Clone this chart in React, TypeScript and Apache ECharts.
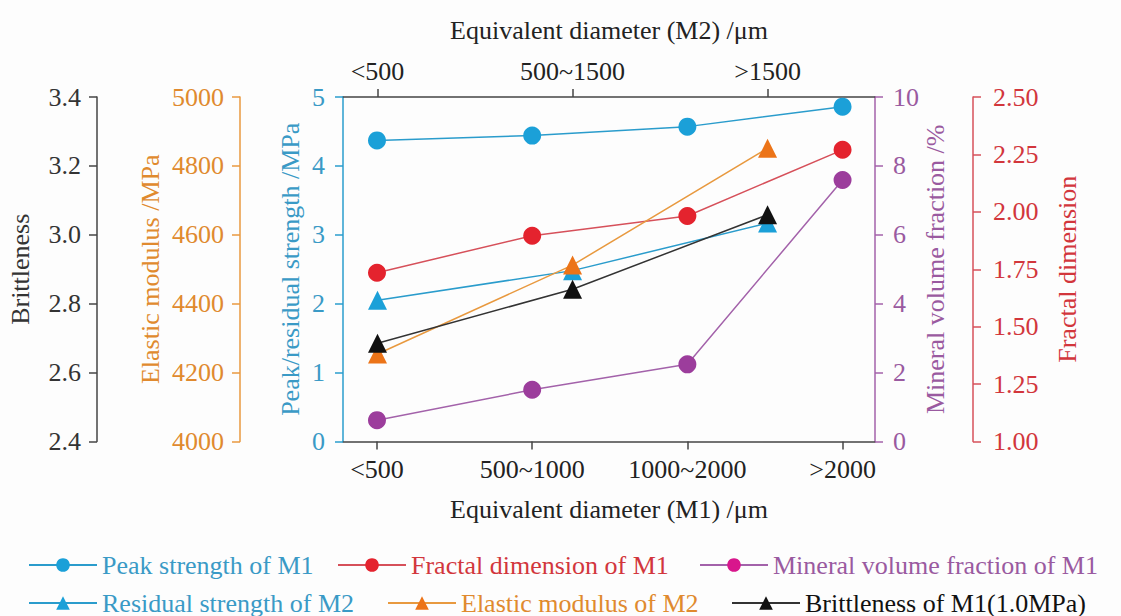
import React, { useEffect, useRef } from 'react';
import * as echarts from 'echarts';

const m1Categories = ['<500', '500~1000', '1000~2000', '>2000'];
const m2Categories = ['<500', '500~1500', '>1500'];
const peakStrengthM1 = [4.37, 4.44, 4.57, 4.86];
const fractalDimensionM1 = [1.735, 1.896, 1.982, 2.27];
const mineralFractionM1 = [0.62, 1.5, 2.24, 7.59];
const residualStrengthM2 = [2.05, 2.48, 3.17];
const elasticModulusM2 = [4254, 4512, 4851];
const brittlenessM1 = [2.685, 2.842, 3.058];

const FONT = 'Liberation Serif, serif';
const FS = 26;

const C = {
  cyan: '#1ba0d8',
  cyanLine: '#2a9ccc',
  cyanText: '#3a9ac6',
  red: '#e4232e',
  redLine: '#d6505a',
  redText: '#d2363c',
  purple: '#9c3d9c',
  purpleLine: '#a362aa',
  purpleText: '#9a5aa0',
  magenta: '#d8168c',
  orange: '#ec7418',
  orangeLine: '#e8993f',
  orangeText: '#e08a2e',
  black: '#111111',
  gray: '#444444',
};

function yAxisCfg(opts: any) {
  const { color, textColor, position, offset, min, max, interval, name, nameGap, digits, labelMargin } = opts;
  return {
    type: 'value',
    position,
    offset,
    min,
    max,
    interval,
    name,
    nameLocation: 'middle',
    nameGap,
    nameRotate: 90,
    nameTextStyle: { color: textColor, fontFamily: FONT, fontSize: FS },
    axisLine: { show: true, onZero: false, lineStyle: { color, width: 1.5 } },
    axisTick: { show: true, inside: false, length: 8, lineStyle: { color, width: 1.5 } },
    axisLabel: {
      color: textColor,
      fontFamily: FONT,
      fontSize: FS,
      margin: labelMargin,
      formatter: (v: number) => v.toFixed(digits),
    },
    splitLine: { show: false },
  };
}

function legendItem(name: string, color: string, left: number, top: number, iconColor?: string) {
  const item: any = { name, textStyle: { color } };
  if (iconColor) item.itemStyle = { color: iconColor };
  return {
    left,
    top,
    itemWidth: 68,
    itemHeight: 17,
    padding: 0,
    textStyle: { fontFamily: FONT, fontSize: FS },
    data: [item],
  };
}

export default function App() {
  const ref = useRef<HTMLDivElement>(null);

  useEffect(() => {
    if (!ref.current) return;
    const chart = echarts.init(ref.current, undefined, { renderer: 'svg' });

    const m1Data = (arr: number[]) => arr.map((v, i) => [i, v]);
    const m2Data = (arr: number[]) => arr.map((v, i) => [i, v]);

    const xBase = {
      type: 'value',
      splitLine: { show: false },
      axisLine: { show: true, onZero: false, lineStyle: { color: C.gray, width: 1.5 } },
      axisTick: { show: true, inside: false, length: 8, lineStyle: { color: C.gray, width: 1.5 } },
      nameLocation: 'middle',
      nameTextStyle: { color: '#222', fontFamily: FONT, fontSize: FS },
    };

    const option: any = {
      animation: false,
      textStyle: { fontFamily: FONT },
      grid: { left: 343, right: 246, top: 97, bottom: 174.5, containLabel: false },
      xAxis: [
        {
          ...xBase,
          position: 'bottom',
          min: -0.219,
          max: 3.209,
          name: 'Equivalent diameter (M1) /μm',
          nameGap: 55,
          axisTick: { ...xBase.axisTick, customValues: [0, 1, 2, 3] },
          axisLabel: {
            color: '#222',
            fontFamily: FONT,
            fontSize: FS,
            margin: 15,
            customValues: [0, 1, 2, 3],
            formatter: (v: number) => m1Categories[Math.round(v)] ?? '',
          },
        },
        {
          ...xBase,
          position: 'top',
          min: -0.177,
          max: 2.551,
          name: 'Equivalent diameter (M2) /μm',
          nameGap: 54,
          axisTick: { ...xBase.axisTick, customValues: [0, 1, 2] },
          axisLabel: {
            color: '#222',
            fontFamily: FONT,
            fontSize: FS,
            margin: 13,
            customValues: [0, 1, 2],
            formatter: (v: number) => m2Categories[Math.round(v)] ?? '',
          },
        },
      ],
      yAxis: [
        yAxisCfg({ color: C.gray, textColor: '#333', position: 'left', offset: 246, min: 2.4, max: 3.4, interval: 0.2, name: 'Brittleness', nameGap: 64, digits: 1, labelMargin: 16 }),
        yAxisCfg({ color: C.orangeLine, textColor: C.orangeText, position: 'left', offset: 103, min: 4000, max: 5000, interval: 200, name: 'Elastic modulus /MPa', nameGap: 77, digits: 0, labelMargin: 16 }),
        yAxisCfg({ color: C.cyanLine, textColor: C.cyanText, position: 'left', offset: 0, min: 0, max: 5, interval: 1, name: 'Peak/residual strength /MPa', nameGap: 40, digits: 0, labelMargin: 18 }),
        yAxisCfg({ color: C.purpleLine, textColor: C.purpleText, position: 'right', offset: 0, min: 0, max: 10, interval: 2, name: 'Mineral volume fraction /%', nameGap: 45, digits: 0, labelMargin: 18 }),
        yAxisCfg({ color: C.redLine, textColor: C.redText, position: 'right', offset: 98, min: 1, max: 2.5, interval: 0.25, name: 'Fractal dimension', nameGap: 81, digits: 2, labelMargin: 20 }),
      ],
      legend: [
        legendItem('Peak strength of M1', C.cyanText, 28, 552),
        legendItem('Fractal dimension of M1', C.redText, 337, 552),
        legendItem('Mineral volume fraction of M1', C.purpleText, 699, 552, C.magenta),
        legendItem('Residual strength of M2', C.cyanText, 28, 590),
        legendItem('Elastic modulus of M2', C.orangeText, 387, 590),
        legendItem('Brittleness of M1(1.0MPa)', '#111', 731, 590),
      ],
      series: [
        {
          name: 'Peak strength of M1',
          type: 'line',
          xAxisIndex: 0,
          yAxisIndex: 2,
          data: m1Data(peakStrengthM1),
          symbol: 'circle',
          symbolSize: 18,
          itemStyle: { color: C.cyan },
          lineStyle: { color: C.cyanLine, width: 1.5 },
        },
        {
          name: 'Fractal dimension of M1',
          type: 'line',
          xAxisIndex: 0,
          yAxisIndex: 4,
          data: m1Data(fractalDimensionM1),
          symbol: 'circle',
          symbolSize: 18,
          itemStyle: { color: C.red },
          lineStyle: { color: C.redLine, width: 1.5 },
        },
        {
          name: 'Mineral volume fraction of M1',
          type: 'line',
          xAxisIndex: 0,
          yAxisIndex: 3,
          data: m1Data(mineralFractionM1),
          symbol: 'circle',
          symbolSize: 18,
          itemStyle: { color: C.purple },
          lineStyle: { color: C.purpleLine, width: 1.5 },
        },
        {
          name: 'Residual strength of M2',
          type: 'line',
          xAxisIndex: 1,
          yAxisIndex: 2,
          data: m2Data(residualStrengthM2),
          symbol: 'triangle',
          symbolSize: 19,
          itemStyle: { color: C.cyan },
          lineStyle: { color: C.cyanLine, width: 1.5 },
        },
        {
          name: 'Elastic modulus of M2',
          type: 'line',
          xAxisIndex: 1,
          yAxisIndex: 1,
          data: m2Data(elasticModulusM2),
          symbol: 'triangle',
          symbolSize: 19,
          itemStyle: { color: C.orange },
          lineStyle: { color: C.orangeLine, width: 1.5 },
        },
        {
          name: 'Brittleness of M1(1.0MPa)',
          type: 'line',
          xAxisIndex: 1,
          yAxisIndex: 0,
          data: m2Data(brittlenessM1),
          symbol: 'triangle',
          symbolSize: 19,
          itemStyle: { color: C.black },
          lineStyle: { color: '#333', width: 1.5 },
        },
      ],
    };

    chart.setOption(option);
    return () => chart.dispose();
  }, []);

  return (
    <div
      ref={ref}
      style={{ position: 'absolute', left: 0, top: 0, width: 1121, height: 616, background: '#fdfdfd' }}
    />
  );
}
